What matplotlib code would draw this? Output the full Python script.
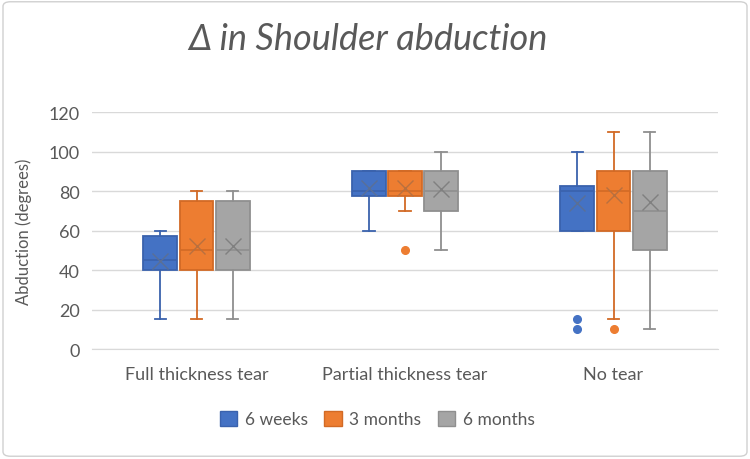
import matplotlib.pyplot as plt
from matplotlib.patches import Patch, FancyBboxPatch

# Data
categories = ["Full thickness tear", "Partial thickness tear", "No tear"]
series = ["6 weeks", "3 months", "6 months"]

# per series: one value per category
whislo = [[15, 60, 60], [15, 70, 15], [15, 50, 10]]
q1 = [[40, 77.5, 60], [40, 77.5, 60], [40, 70, 50]]
med = [[45, 80, 80], [50, 80, 80], [50, 80, 70]]
q3 = [[57.5, 90, 82.5], [75, 90, 90], [75, 90, 90]]
whishi = [[60, 90, 100], [80, 90, 110], [80, 100, 110]]
means = [[44.5, 81.5, 74], [52, 81.5, 78], [52, 81, 74.5]]
fliers = [[[], [], [15, 10]], [[], [50], [10]], [[], [], []]]

face_colors = ["#4472C4", "#ED7D31", "#A5A5A5"]
edge_colors = ["#3A62AD", "#D26A25", "#8F8F8F"]
mean_colors = ["#5A6F96", "#B8703F", "#808080"]

plt.rcParams["font.family"] = ["Lato", "DejaVu Sans"]

fig = plt.figure(figsize=(7.5, 4.6), dpi=100)
ax = fig.add_axes([0.123, 0.239, 0.834, 0.515])

# rounded frame around the whole chart
frame = FancyBboxPatch((0.004, 0.006), 0.992, 0.988, boxstyle="round,pad=0,rounding_size=0.01",
                       transform=fig.transFigure, facecolor="none", edgecolor="#D0D0D0", lw=1.0)
fig.patches.append(frame)

width = 0.163
offset = 0.173
for s in range(len(series)):
    stats = []
    for c in range(len(categories)):
        stats.append(dict(whislo=whislo[s][c], q1=q1[s][c], med=med[s][c], q3=q3[s][c],
                          whishi=whishi[s][c], mean=means[s][c], fliers=fliers[s][c]))
    positions = [c + (s - 1) * offset for c in range(len(categories))]
    ax.bxp(stats, positions=positions, widths=width, capwidths=0.055,
           showmeans=True, patch_artist=True, manage_ticks=False,
           boxprops=dict(facecolor=face_colors[s], edgecolor=edge_colors[s], lw=1.3),
           medianprops=dict(color=edge_colors[s], lw=1.2),
           whiskerprops=dict(color=edge_colors[s], lw=1.3),
           capprops=dict(color=edge_colors[s], lw=1.3),
           meanprops=dict(marker="x", markeredgecolor=mean_colors[s], markersize=11, markeredgewidth=1.0),
           flierprops=dict(marker="o", markerfacecolor=face_colors[s], markeredgecolor=face_colors[s],
                           markersize=5.5))

ax.set_xlim(-0.5, 2.5)
ax.set_ylim(0, 120)
ax.set_yticks(range(0, 121, 20))
ax.set_xticks(range(len(categories)))
ax.set_xticklabels(categories)
ax.tick_params(axis="both", length=0, colors="#595959", labelsize=13)
ax.tick_params(axis="x", pad=12)
ax.tick_params(axis="y", pad=9)
ax.grid(axis="y", color="#D9D9D9", lw=1.0)
ax.set_axisbelow(True)
for side in ["left", "right", "top"]:
    ax.spines[side].set_visible(False)
ax.spines["bottom"].set_color("#D9D9D9")
ax.set_ylabel("Abduction (degrees)", color="#595959", fontsize=12, labelpad=12)

fig.text(0.49, 0.915, "\u0394 in Shoulder abduction", ha="center", va="center",
         fontsize=26, style="italic", color="#595959")

handles = [Patch(facecolor=face_colors[i], edgecolor=edge_colors[i], label=series[i]) for i in range(3)]
fig.legend(handles=handles, loc="center", bbox_to_anchor=(0.503, 0.087), ncol=3, frameon=False,
           fontsize=12.5, labelcolor="#595959", handlelength=1.0, handleheight=1.0,
           handletextpad=0.45, columnspacing=0.95)

fig.savefig("out.png", dpi=100)
